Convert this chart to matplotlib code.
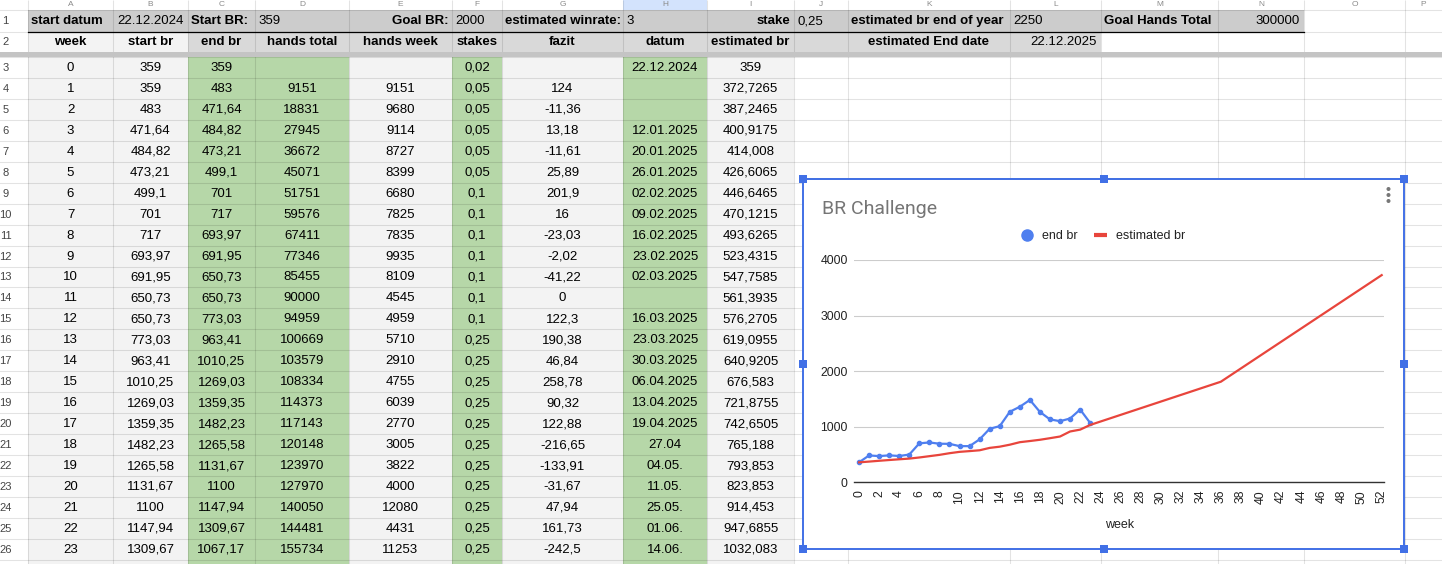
import matplotlib
matplotlib.use('Agg')
import matplotlib.pyplot as plt
from matplotlib.patches import Rectangle, Circle
from matplotlib.lines import Line2D

plt.rcParams['font.family'] = ['Liberation Sans', 'DejaVu Sans']

# ---------------- data ----------------
weeks = list(range(0, 24))
start_br = ["359", "359", "483", "471,64", "484,82", "473,21", "499,1", "701", "717", "693,97",
            "691,95", "650,73", "650,73", "773,03", "963,41", "1010,25", "1269,03", "1359,35",
            "1482,23", "1265,58", "1131,67", "1100", "1147,94", "1309,67"]
end_br = [359, 483, 471.64, 484.82, 473.21, 499.1, 701, 717, 693.97, 691.95, 650.73, 650.73,
          773.03, 963.41, 1010.25, 1269.03, 1359.35, 1482.23, 1265.58, 1131.67, 1100, 1147.94,
          1309.67, 1067.17]
hands_total = ["", "9151", "18831", "27945", "36672", "45071", "51751", "59576", "67411", "77346",
               "85455", "90000", "94959", "100669", "103579", "108334", "114373", "117143",
               "120148", "123970", "127970", "140050", "144481", "155734"]
hands_week = ["", "9151", "9680", "9114", "8727", "8399", "6680", "7825", "7835", "9935", "8109",
              "4545", "4959", "5710", "2910", "4755", "6039", "2770", "3005", "3822", "4000",
              "12080", "4431", "11253"]
stakes = ["0,02"] + ["0,05"] * 5 + ["0,1"] * 7 + ["0,25"] * 11
fazit = ["", "124", "-11,36", "13,18", "-11,61", "25,89", "201,9", "16", "-23,03", "-2,02",
         "-41,22", "0", "122,3", "190,38", "46,84", "258,78", "90,32", "122,88", "-216,65",
         "-133,91", "-31,67", "47,94", "161,73", "-242,5"]
datum = ["22.12.2024", "", "", "12.01.2025", "20.01.2025", "26.01.2025", "02.02.2025",
         "09.02.2025", "16.02.2025", "23.02.2025", "02.03.2025", "", "16.03.2025", "23.03.2025",
         "30.03.2025", "06.04.2025", "13.04.2025", "19.04.2025", "27.04", "04.05.", "11.05.",
         "25.05.", "01.06.", "14.06."]
estimated_br = [359, 372.7265, 387.2465, 400.9175, 414.008, 426.6065, 446.6465, 470.1215,
                493.6265, 523.4315, 547.7585, 561.3935, 576.2705, 619.0955, 640.9205, 676.583,
                721.8755, 742.6505, 765.188, 793.853, 823.853, 914.453, 947.6855, 1032.083]
est_extra_weeks = [36, 52]
est_extra_vals = [1810, 3728]

header_row1 = [("start datum", True, 'l'), ("22.12.2024", False, 'r'), ("Start BR:", True, 'l'),
               ("359", False, 'l'), ("Goal BR:", True, 'r'), ("2000", False, 'l'),
               ("estimated winrate:", True, 'l'), ("3", False, 'l'), ("stake", True, 'r'),
               ("0,25", False, 'l'), ("estimated br end of year", True, 'l'), ("2250", False, 'l'),
               ("Goal Hands Total", True, 'l'), ("300000", False, 'r')]
header_row2 = [("week", True, 'c'), ("start br", True, 'c'), ("end br", True, 'c'),
               ("hands total", True, 'c'), ("hands week", True, 'c'), ("stakes", True, 'c'),
               ("fazit", True, 'c'), ("datum", True, 'c'), ("estimated br", True, 'c'),
               ("", False, 'c'), ("estimated End date", True, 'c'), ("22.12.2025", False, 'r')]
col_letters = list("ABCDEFGHIJKLMNOP")

# ---------------- layout ----------------
W, H = 1442, 564
fig = plt.figure(figsize=(W / 100, H / 100), dpi=100)
bg = fig.add_axes([0, 0, 1, 1])
bg.set_xlim(0, W)
bg.set_ylim(H, 0)
bg.axis('off')

col_edges = [0, 28, 113, 188, 255, 349, 452, 502, 623, 707, 794, 848, 1010, 1101, 1218, 1304, 1405, 1442]
row1 = (10, 31.5)
row2 = (31.5, 52.3)
band = (52.3, 57)
row_h = 20.95
data_top = 57
n_rows = 25  # rows 3..27 (last one partial)

FS = 9.5
GRAY1 = '#cccccc'
GRAY2 = '#d9d9d9'
LIGHT = '#f3f3f3'
GREEN = '#b6d7a8'


def num_str(v):
    return str(v).replace('.', ',')


def cell(ci, y0, y1, color, z=1):
    x0, x1 = col_edges[ci], col_edges[ci + 1]
    bg.add_patch(Rectangle((x0, y0), x1 - x0, y1 - y0, facecolor=color, edgecolor='none', zorder=z))


def ctext(ci, y0, y1, s, bold=False, align='c', color='#000000', fs=FS):
    x0, x1 = col_edges[ci], col_edges[ci + 1]
    if align == 'c':
        x, ha = (x0 + x1) / 2, 'center'
    elif align == 'l':
        x, ha = x0 + 3, 'left'
    else:
        x, ha = x1 - 4, 'right'
    bg.text(x, (y0 + y1) / 2 + 0.5, s, ha=ha, va='center', fontsize=fs,
            fontweight='bold' if bold else 'normal', color=color, zorder=3)


# column header highlight (H selected)
cell(8, 0, 10, '#d3e3fd')
for i, L in enumerate(col_letters):
    x0, x1 = col_edges[i + 1], col_edges[i + 2]
    bg.text((x0 + x1) / 2, 5, L, ha='center', va='center', fontsize=6, color='#8a8a8a', zorder=3)

# row 1
for i, (s, b, a) in enumerate(header_row1):
    cell(i + 1, *row1, GRAY1)
    ctext(i + 1, *row1, s, b, a)
# row 2
for i, (s, b, a) in enumerate(header_row2):
    cell(i + 1, *row2, LIGHT if i < 2 else GRAY2)
    ctext(i + 1, *row2, s, b, a)

# data rows
col_colors = {1: LIGHT, 2: LIGHT, 3: GREEN, 4: GREEN, 5: LIGHT, 6: GREEN, 7: LIGHT, 8: GREEN, 9: LIGHT}
columns = [[str(w) for w in weeks], start_br, [num_str(v) for v in end_br], hands_total,
           hands_week, stakes, fazit, datum, [num_str(v) for v in estimated_br]]
for r in range(n_rows):
    y0 = data_top + r * row_h
    y1 = y0 + row_h
    for ci, colr in col_colors.items():
        cell(ci, y0, y1, colr)
    if r < len(weeks):
        for ci in range(1, 10):
            ctext(ci, y0, y1, columns[ci - 1][r])

# row numbers
row_y = [row1, row2] + [(data_top + r * row_h, data_top + (r + 1) * row_h) for r in range(n_rows - 1)]
for k, (y0, y1) in enumerate(row_y):
    bg.text(5.5, (y0 + y1) / 2 + 0.5, str(k + 1), ha='center', va='center', fontsize=8,
            color='#444444', zorder=3)

# gridlines
gc = (0, 0, 0, 0.11)
for x in col_edges[1:-1]:
    bg.plot([x, x], [0, H], color=gc, lw=0.75, zorder=2, solid_capstyle='butt')
h_edges = [10, row1[1]] + [data_top + r * row_h for r in range(n_rows + 1)]
for y in h_edges:
    bg.plot([0, W], [y, y], color=gc, lw=0.75, zorder=2)
bg.plot([col_edges[1], col_edges[15]], [row1[1], row1[1]], color='#000000', lw=0.9, zorder=2.5)
bg.add_patch(Rectangle((0, band[0]), W, band[1] - band[0], facecolor='#c4c4c4', edgecolor='none', zorder=2.6))

# chart frame
cx0, cy0, cx1, cy1 = 803, 179, 1404, 549
bg.add_patch(Rectangle((cx0, cy0), cx1 - cx0, cy1 - cy0, facecolor='white', edgecolor='none', zorder=10))
blue = '#4170e6'
bg.plot([cx0, cx1], [cy0 - 0.5, cy0 - 0.5], color='#9a9a9a', lw=1.2, zorder=11)
for (xa, ya, xb, yb) in [(cx0, cy0, cx1, cy0), (cx0, cy1, cx1, cy1), (cx0, cy0, cx0, cy1), (cx1, cy0, cx1, cy1)]:
    bg.plot([xa, xb], [ya, yb], color=blue, lw=1.4, zorder=11)
for hx in (cx0, (cx0 + cx1) / 2, cx1):
    for hy in (cy0, (cy0 + cy1) / 2, cy1):
        if hx == (cx0 + cx1) / 2 and hy == (cy0 + cy1) / 2:
            continue
        bg.add_patch(Rectangle((hx - 4, hy - 4), 8, 8, facecolor=blue, edgecolor='none', zorder=12))
for dy in (189, 195, 201):
    bg.add_patch(Circle((1388.5, dy), 2.0, facecolor='#777777', edgecolor='none', zorder=12))

bg.text(822, 213.5, "BR Challenge", ha='left', va='baseline', fontsize=14, color='#757575',
        family=['Roboto', 'DejaVu Sans'], zorder=12)

# ---------------- chart ----------------
def fx(x):
    return x / W


def fy(y):
    return 1 - y / H


ax = fig.add_axes([fx(854.3), fy(482.3), (1384 - 854.3) / W, (482.3 - 260) / H])
ax.patch.set_alpha(0)
ax.set_xlim(-0.47, 52.23)
ax.set_ylim(0, 4000)
for s in ['top', 'right', 'left']:
    ax.spines[s].set_visible(False)
ax.spines['bottom'].set_color('#333333')
ax.spines['bottom'].set_linewidth(1.0)
ax.set_yticks([0, 1000, 2000, 3000, 4000])
ax.yaxis.grid(True, color='#cccccc', lw=0.8)
ax.set_axisbelow(True)
ax.set_xticks(list(range(0, 53, 2)))
ax.tick_params(axis='both', length=0, labelsize=8.8, labelcolor='#222222')
ax.tick_params(axis='y', pad=4.7)
ax.tick_params(axis='x', pad=5.5, labelrotation=90)

c_blue = '#4f7fef'
c_red = '#e8453c'
ax.plot(weeks, end_br, color=c_blue, lw=1.6, marker='o', ms=3, zorder=3)
ax.plot(weeks + est_extra_weeks, estimated_br + est_extra_vals, color=c_red, lw=1.6, zorder=4)

ax.set_xlabel("week", fontsize=9, color='#222222')
ax.xaxis.label.set_va('center')
ax.xaxis.set_label_coords(0.5, (482.3 - 525) / (482.3 - 260))

handles = [Line2D([], [], color=c_blue, marker='o', ls='none', ms=8),
           Line2D([], [], color=c_red, lw=3, solid_capstyle='butt')]
leg = ax.legend(handles, ["end br", "estimated br"], loc='center', ncol=2, frameon=False,
                bbox_to_anchor=(fx(1103), fy(236)), bbox_transform=fig.transFigure,
                fontsize=9, handlelength=1.0, handletextpad=0.7, columnspacing=1.3,
                borderaxespad=0, borderpad=0)
for t in leg.get_texts():
    t.set_color('#222222')

fig.savefig('out.png', dpi=100)
